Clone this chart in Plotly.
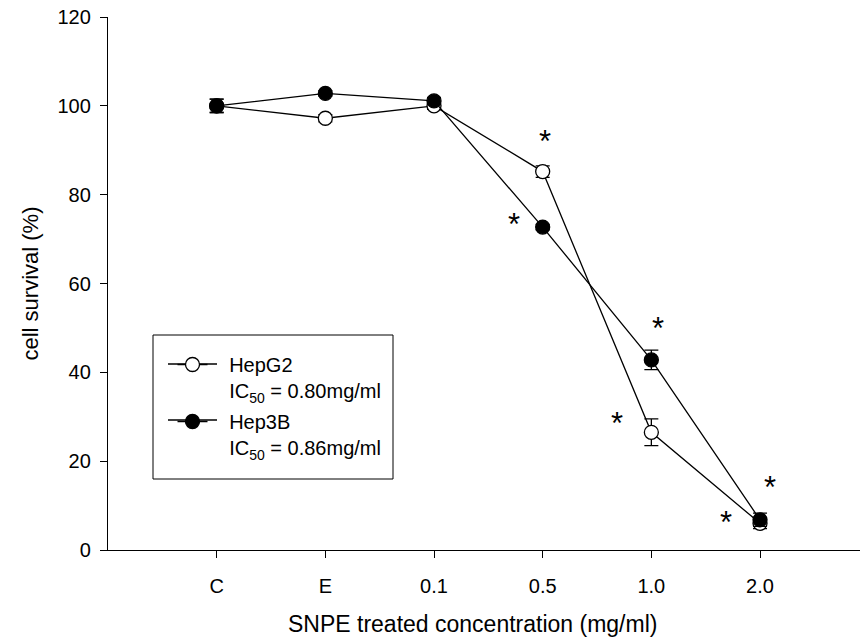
import plotly.graph_objects as go

categories = ["C", "E", "0.1", "0.5", "1.0", "2.0"]
hepg2 = [100.0, 97.2, 100.0, 85.2, 26.5, 6.0]
hepg2_err = [1.5, 0.8, 0.8, 1.3, 3.0, 1.2]
hep3b = [100.0, 102.8, 101.1, 72.7, 42.8, 6.8]
hep3b_err = [1.5, 0.6, 0.8, 0.6, 2.2, 1.5]

# significance asterisks: (x position index, y value)
star_x = [3.02, 2.74, 4.06, 3.68, 5.09, 4.69]
star_y = [93.0, 74.5, 51.1, 29.7, 15.3, 7.4]

FONT = "Liberation Sans, Arial, sans-serif"
PAD = "\u00a0" * 3

# plot area in pixels: left 108, right 860, top 17, bottom 550
def px_x(p):
    return (p - 108) / 752.0

def px_y(p):
    return (550 - p) / 533.0

fig = go.Figure()
fig.add_trace(go.Scatter(
    x=categories, y=hepg2, mode="lines+markers",
    name=PAD + "HepG2<br>" + PAD + "IC<sub>50</sub> = 0.80mg/ml", legendgroup="a",
    line=dict(color="black", width=1.3),
    marker=dict(symbol="circle", size=14, color="white", line=dict(color="black", width=1.3)),
    error_y=dict(type="data", array=hepg2_err, visible=True, color="black", thickness=1.3, width=7),
))
fig.add_trace(go.Scatter(
    x=categories, y=hep3b, mode="lines+markers",
    name=PAD + "Hep3B<br>" + PAD + "IC<sub>50</sub> = 0.86mg/ml", legendgroup="b",
    line=dict(color="black", width=1.3),
    marker=dict(symbol="circle", size=14, color="black", line=dict(color="black", width=1.3)),
    error_y=dict(type="data", array=hep3b_err, visible=True, color="black", thickness=1.3, width=7),
))

for sx, sy in zip(star_x, star_y):
    fig.add_annotation(x=sx, y=sy, text="*", showarrow=False,
                       font=dict(size=31, family=FONT, color="black"),
                       xanchor="center", yanchor="middle", yshift=-5)

# x-axis title
fig.add_annotation(x=px_x(472), y=px_y(624), xref="paper", yref="paper",
                   text="SNPE treated concentration (mg/ml)", showarrow=False,
                   font=dict(size=23, family=FONT, color="black"),
                   xanchor="center", yanchor="middle")

# legend frame and longer symbol lines
fig.add_shape(type="rect", xref="paper", yref="paper",
              x0=px_x(153), x1=px_x(393), y0=px_y(479), y1=px_y(335),
              line=dict(color="black", width=1), fillcolor="rgba(0,0,0,0)")
for ly in (364, 420):
    fig.add_shape(type="line", xref="paper", yref="paper",
                  x0=px_x(168), x1=px_x(217), y0=px_y(ly), y1=px_y(ly),
                  line=dict(color="black", width=1.3))

fig.update_layout(
    width=860, height=644,
    margin=dict(l=108, r=0, t=17, b=94),
    paper_bgcolor="white", plot_bgcolor="white",
    font=dict(family=FONT, size=20, color="black"),
    showlegend=True,
    legend=dict(x=px_x(172.5), y=px_y(345), xanchor="left", yanchor="top",
                borderwidth=0, bgcolor="rgba(0,0,0,0)",
                font=dict(size=20, family=FONT), valign="top",
                tracegroupgap=2),
    xaxis=dict(
        type="category", categoryorder="array", categoryarray=categories,
        range=[-1, 5.92], showgrid=False, zeroline=False,
        showline=True, linecolor="black", linewidth=1.3,
        ticks="outside", ticklen=7, tickcolor="black", tickwidth=1,
        ticklabelstandoff=11,
        tickfont=dict(size=20, family=FONT),
    ),
    yaxis=dict(
        range=[0, 120], tickvals=[0, 20, 40, 60, 80, 100, 120],
        showgrid=False, zeroline=False,
        showline=True, linecolor="black", linewidth=1.3,
        ticks="outside", ticklen=7, tickcolor="black", tickwidth=1,
        ticklabelstandoff=5,
        tickfont=dict(size=20, family=FONT),
        title=dict(text="cell survival (%)", font=dict(size=22, family=FONT), standoff=12),
    ),
)

fig.write_html("out.html")
